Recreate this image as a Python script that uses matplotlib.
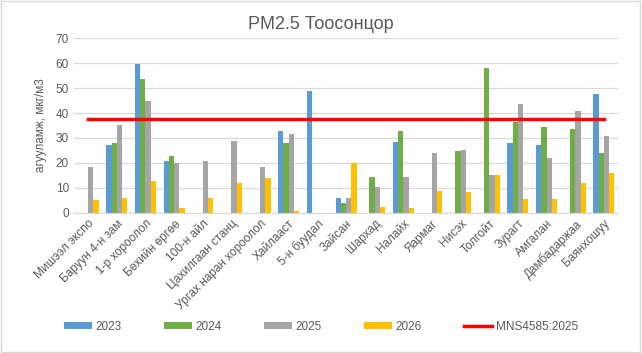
import numpy as np
import matplotlib
matplotlib.use("Agg")
import matplotlib.pyplot as plt
from matplotlib.patches import Rectangle

plt.rcParams['font.family'] = ['Liberation Sans', 'DejaVu Sans']

# Station names
stations = ['Мишээл экспо', 'Баруун 4-н зам', '1-р хороолол', 'Бөхийн өргөө',
            '100-н айл', 'Цахилгаан станц', 'Ургах наран хороолол', 'Хайлааст',
            '5-н буудал', 'Зайсан', 'Шархад', 'Налайх', 'Яармаг', 'Нисэх',
            'Толгойт', 'Зурагт', 'Амгалан', 'Дамбадаржаа', 'Баянхошуу']

nan = np.nan
y2023 = [nan, 27.0, 59.7, 20.9, nan, nan, nan, 32.9, 48.9, 6.1,
         nan, 28.5, nan, nan, nan, 28.1, 27.3, nan, 47.7]
y2024 = [nan, 28.1, 53.7, 22.9, nan, nan, nan, 28.1, nan, 4.1,
         14.5, 32.9, nan, 24.9, 58.1, 36.5, 34.5, 33.7, 24.1]
y2025 = [18.3, 35.0, 45.0, 20.0, 20.9, 28.9, 18.3, 31.7, nan, 6.1,
         10.5, 14.5, 24.1, 25.3, 15.3, 43.7, 22.1, 40.9, 30.9]
y2026 = [5.0, 6.1, 12.9, 2.1, 6.1, 12.1, 14.1, 0.9, nan, 20.0,
         2.5, 2.1, 8.9, 8.5, 15.3, 5.7, 5.7, 12.1, 16.1]
standard = 37.5

series = [('2023', y2023, '#5B9BD5'), ('2024', y2024, '#70AD47'),
          ('2025', y2025, '#A5A5A5'), ('2026', y2026, '#FFC000')]

fig = plt.figure(figsize=(6.42, 3.53), dpi=100)
ax = fig.add_axes([0.115, 0.397, 0.848, 0.495])

x = np.arange(len(stations))
w = 0.183
handles = []
for i, (name, vals, col) in enumerate(series):
    h = ax.bar(x + (i - 1.5) * w, vals, width=w, color=col, label=name, zorder=2)
    handles.append(h)

ln, = ax.plot(x, [standard] * len(stations), color='#FF0000', lw=2.5,
              label='MNS4585:2025', zorder=3)
handles.append(ln)

ax.set_xlim(-0.5, len(stations) - 0.5)
ax.set_ylim(0, 70)
ax.set_yticks(range(0, 71, 10))
ax.grid(axis='y', color='#D9D9D9', lw=0.9, zorder=0)
for s in ['top', 'right', 'left']:
    ax.spines[s].set_visible(False)
ax.spines['bottom'].set_color('#D9D9D9')
ax.tick_params(length=0, colors='#595959', labelsize=8.5)
ax.set_xticks(x)
ax.set_xticklabels(stations, rotation=45, ha='right', rotation_mode='anchor',
                   fontsize=8.5, color='#595959')
ax.set_ylabel('агууламж, мкг/м3', fontsize=8.5, color='#595959', labelpad=6)

fig.text(0.5, 0.93, 'PM2.5 Тоосонцор', ha='center', va='center',
         fontsize=13, color='#595959')

ax.legend(handles=handles, loc='center', bbox_to_anchor=(0.5, 0.075),
          bbox_transform=fig.transFigure, ncol=5, frameon=False, fontsize=8.5,
          labelcolor='#595959', handlelength=2.4, handleheight=0.55,
          columnspacing=3.55, handletextpad=0.3)

fig.patches.append(Rectangle((0.002, 0.003), 0.995, 0.994, transform=fig.transFigure,
                             fill=False, edgecolor='#D9D9D9', lw=1))

fig.savefig('out.png', dpi=100)
